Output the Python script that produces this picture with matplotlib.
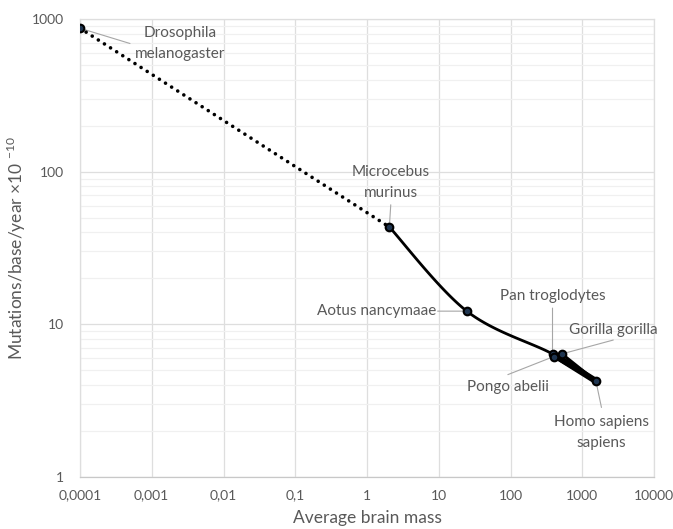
import numpy as np
import matplotlib
matplotlib.use("Agg")
import matplotlib.pyplot as plt
from matplotlib.ticker import FixedLocator, NullFormatter

plt.rcParams['font.family'] = ['Lato', 'DejaVu Sans']

# ---- data ----
species = ["Drosophila\nmelanogaster", "Microcebus\nmurinus", "Aotus nancymaae",
           "Pan troglodytes", "Pongo abelii", "Gorilla gorilla", "Homo sapiens\nsapiens"]
brain_mass = [0.0001, 2.05, 24.6, 385, 400, 520, 1550]
mut_rate = [870, 43.4, 12.2, 6.4, 6.15, 6.4, 4.25]

x_ticks = [0.0001, 0.001, 0.01, 0.1, 1, 10, 100, 1000, 10000]
x_ticklabels = ["0,0001", "0,001", "0,01", "0,1", "1", "10", "100", "1000", "10000"]
y_ticks = [1, 10, 100, 1000]
y_ticklabels = ["1", "10", "100", "1000"]

# label offsets in points (dx, dy, ha) and leader line ends
label_pos = {
    "Drosophila\nmelanogaster": (72, -11, 'center'),
    "Microcebus\nmurinus": (1, 32, 'center'),
    "Aotus nancymaae": (-22, 0, 'right'),
    "Pan troglodytes": (0, 42, 'center'),
    "Pongo abelii": (-33, -22, 'center'),
    "Gorilla gorilla": (37, 17, 'center'),
    "Homo sapiens\nsapiens": (4, -37, 'center'),
}
leader_end = {
    "Drosophila\nmelanogaster": (36, -11),
    "Microcebus\nmurinus": (1, 16),
    "Aotus nancymaae": (-21, 0),
    "Pan troglodytes": (0, 33),
    "Pongo abelii": (-33, -13),
    "Gorilla gorilla": (37, 10),
    "Homo sapiens\nsapiens": (4, -19),
}


def smooth_curve(xs, ys, n=60):
    lx, ly = np.log10(xs), np.log10(ys)
    P = np.column_stack([lx, ly])
    pts = []
    for i in range(len(P) - 1):
        p0 = P[i - 1] if i > 0 else P[i]
        p1, p2 = P[i], P[i + 1]
        p3 = P[i + 2] if i + 2 < len(P) else P[i + 1]
        c1 = p1 + (p2 - p0) / 6.0
        c2 = p2 - (p3 - p1) / 6.0
        t = np.linspace(0, 1, n)[:, None]
        seg = ((1 - t) ** 3) * p1 + 3 * ((1 - t) ** 2) * t * c1 + 3 * (1 - t) * t ** 2 * c2 + t ** 3 * p2
        pts.append(seg)
    pts = np.vstack(pts)
    return 10 ** pts[:, 0], 10 ** pts[:, 1]


fig = plt.figure(figsize=(6.73, 5.29), dpi=100)
ax = fig.add_axes([80 / 673, 1 - 477 / 529, (654 - 80) / 673, (477 - 19) / 529])
ax.set_xscale('log')
ax.set_yscale('log')
ax.set_xlim(0.0001, 10000)
ax.set_ylim(1, 1000)

# grid
ax.xaxis.set_major_locator(FixedLocator(x_ticks))
ax.xaxis.set_minor_locator(FixedLocator([]))
ax.yaxis.set_major_locator(FixedLocator(y_ticks))
ax.yaxis.set_minor_locator(FixedLocator([m * 10 ** e for e in range(0, 3) for m in range(2, 10)]))
ax.yaxis.set_minor_formatter(NullFormatter())
ax.set_xticklabels(x_ticklabels)
ax.set_yticklabels(y_ticklabels)
ax.grid(True, which='major', color='#dedede', lw=0.9)
ax.grid(True, which='minor', axis='y', color='#f0f0f0', lw=0.9)
ax.set_axisbelow(True)
for s in ax.spines.values():
    s.set_color('#dedede')
    s.set_linewidth(0.9)
ax.spines['bottom'].set_color('#c8c8c8')
ax.tick_params(which='both', length=0, colors='#595959', labelsize=10)
ax.tick_params(axis='x', pad=9)
ax.tick_params(axis='y', pad=11.5)

ax.set_xlabel("Average brain mass", fontsize=12.5, color='#595959', labelpad=6)
ax.set_ylabel("Mutations/base/year \u00d710 $^{\\mathregular{-10}}$", fontsize=12.5,
              color='#595959', labelpad=3)

# dotted segment Drosophila -> Microcebus
ax.plot(brain_mass[:2], mut_rate[:2], color='black', lw=2.6,
        linestyle=(0, (0.01, 2.0)), dash_capstyle='round', zorder=3)

# smooth solid curve Microcebus -> Aotus -> Pan
cx, cy = smooth_curve(brain_mass[1:4] + [brain_mass[6]], mut_rate[1:4] + [mut_rate[6]])
n_keep = 2 * 60
ax.plot(cx[:n_keep], cy[:n_keep], color='black', lw=2.0, zorder=3, solid_capstyle='round')

# great apes -> Homo (thick band)
ax.plot([brain_mass[3], brain_mass[6]], [mut_rate[3], mut_rate[6]], color='black',
        lw=4.5, zorder=3, solid_capstyle='round')
for i in (4, 5):
    ax.plot([brain_mass[i], brain_mass[6]], [mut_rate[i], mut_rate[6]], color='black',
            lw=2.2, zorder=3, solid_capstyle='round')

# markers
ax.plot(brain_mass, mut_rate, 'o', ms=5.5, mfc='#1f3550', mec='black', mew=1.5, zorder=4)

# labels with leader lines
for name, xv, yv in zip(species, brain_mass, mut_rate):
    dx, dy, ha = label_pos[name]
    ax.annotate(name, xy=(xv, yv), xytext=(dx, dy), textcoords='offset points',
                ha=ha, va='center', fontsize=11, color='#595959', linespacing=1.6,
                zorder=5)
    ex, ey = leader_end[name]
    ax.annotate("", xy=(xv, yv), xytext=(ex, ey), textcoords='offset points',
                arrowprops=dict(arrowstyle='-', color='#a6a6a6', lw=0.8,
                                shrinkA=0, shrinkB=2), zorder=2)

fig.savefig("out.png", dpi=100, facecolor='white')
